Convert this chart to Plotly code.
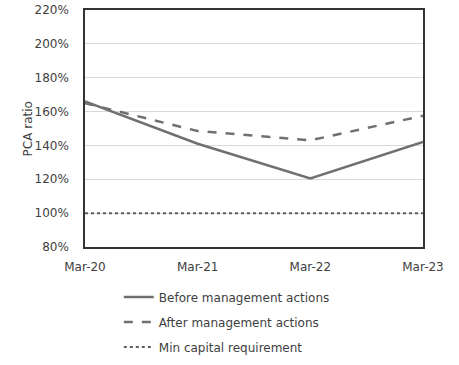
import plotly.graph_objects as go

periods = ["Mar-20", "Mar-21", "Mar-22", "Mar-23"]
before = [166, 141, 120.5, 142]
after = [165, 148.5, 143, 157.5]
min_req = [100, 100, 100, 100]
y_ticks = [80, 100, 120, 140, 160, 180, 200, 220]

x = list(range(len(periods)))
fig = go.Figure()
fig.add_trace(go.Scatter(x=x, y=before, mode="lines", name="Before management actions",
                         legendgroup="a",
                         line=dict(color="#707070", width=2.5)))
fig.add_trace(go.Scatter(x=x, y=after, mode="lines", name="After management actions",
                         legendgroup="b",
                         line=dict(color="#707070", width=2.5, dash="dash")))
fig.add_trace(go.Scatter(x=x, y=min_req, mode="lines", name="Min capital requirement",
                         legendgroup="c",
                         line=dict(color="#606060", width=2, dash="dot")))

font = dict(family="DejaVu Sans, sans-serif", size=12, color="#404040")
fig.update_layout(
    width=459, height=365,
    margin=dict(l=85, r=36, t=10, b=118, autoexpand=False),
    paper_bgcolor="white", plot_bgcolor="white",
    font=font,
    showlegend=True,
    legend=dict(orientation="v", x=0.10, xanchor="left", y=-0.15, yanchor="top",
                font=dict(size=12, color="#404040"), tracegroupgap=6,
                itemwidth=30, bgcolor="rgba(0,0,0,0)"),
    xaxis=dict(range=[0, 3], tickmode="array", tickvals=x, ticktext=periods,
               showgrid=False, showline=True, linecolor="#333333", linewidth=1.5,
               mirror=True, ticks="", zeroline=False, ticklabelstandoff=8,
               ticklabeloverflow="allow"),
    yaxis=dict(range=[80, 220], tickmode="array", tickvals=y_ticks,
               ticktext=[f"{v}%" for v in y_ticks],
               showgrid=True, gridcolor="#d9d9d9", gridwidth=1,
               showline=True, linecolor="#333333", linewidth=1.5, mirror=True,
               ticks="", zeroline=False, ticklabelstandoff=12,
               ticklabeloverflow="allow"),
    annotations=[dict(text="PCA ratio", xref="paper", yref="paper",
                      x=-0.169, y=0.5, xanchor="center", yanchor="middle",
                      textangle=-90, showarrow=False,
                      font=dict(size=12, color="#404040"))],
)
fig.write_html("out.html", config={"displayModeBar": False},
               post_script="document.body.style.margin='0';document.body.style.overflow='hidden';")
